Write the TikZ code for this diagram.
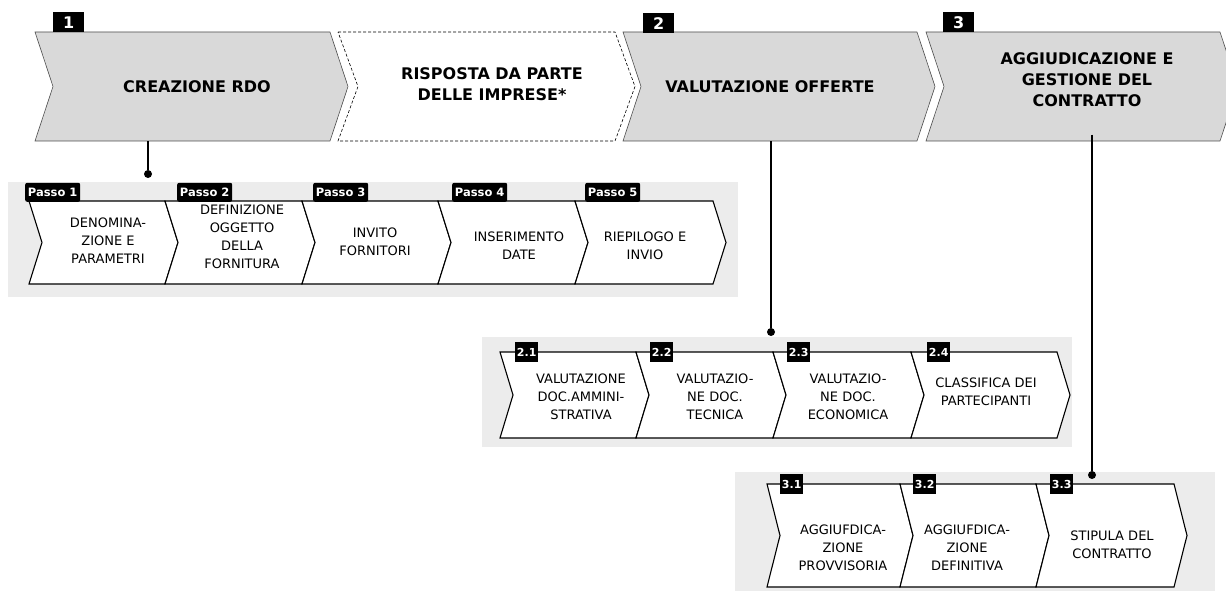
\documentclass[tikz,border=0pt]{standalone}
\usepackage{fontspec}
\setmainfont{DejaVu Sans}
\usepackage{tikz}
\usetikzlibrary{positioning,calc}
% chevron outline: x left, x right, y top, y bottom, depth
\newcommand{\chev}[5]{(#1,#3) -- (#2,#3) -- ({#2+#5},{(#3+#4)/2}) -- (#2,#4) -- (#1,#4) -- ({#1+#5},{(#3+#4)/2}) -- cycle}

\begin{document}
\begin{tikzpicture}[
  x=1pt, y=-1pt,
  phase/.style={draw=black!70, fill=gray!30, line width=0.6pt},
  phasedash/.style={draw=black, dash pattern=on 3pt off 2pt, fill=white, line width=0.6pt},
  panel/.style={fill=gray!15, draw=none},
  stepchev/.style={draw=black, fill=white, line width=1.1pt, line join=miter},
  phasetext/.style={font=\fontsize{16}{21}\selectfont\bfseries, align=center, minimum height=109pt, inner sep=0pt},
  steptext/.style={font=\fontsize{13}{18}\selectfont, align=center},
  numbadge/.style={fill=black, text=white, font=\fontsize{16}{16}\selectfont\bfseries, minimum width=31pt, minimum height=20pt, inner sep=0pt, anchor=north west},
  passobadge/.style={fill=black, text=white, rounded corners=2pt, font=\fontsize{11.5}{11.5}\selectfont\bfseries, minimum width=55pt, minimum height=19pt, inner sep=0pt, anchor=south west},
  subbadge/.style={fill=black, text=white, font=\fontsize{11}{11}\selectfont\bfseries, minimum width=23pt, minimum height=20pt, inner sep=0pt, anchor=west},
  link/.style={line width=1.2pt},
  dot/.style={circle, fill=black, inner sep=0pt, minimum size=8pt},
]
  \useasboundingbox (0,0) rectangle (1226,591);
  \clip (0,0) rectangle (1226,591);

  % phases
  \draw[phase] \chev{35}{330}{32}{141}{18};
  \draw[phasedash] \chev{338}{615}{32}{141}{20};
  \draw[phase] \chev{623}{917}{32}{141}{18};
  \draw[phase] \chev{926}{1220}{32}{141}{18};

  \node[phasetext] (crea) at (197,86.5) {CREAZIONE RDO};
  \node[phasetext] (risp) at (492,84) {RISPOSTA DA PARTE\\DELLE IMPRESE*};
  \node[phasetext] (valu) at (770,86.5) {VALUTAZIONE OFFERTE};
  \node[phasetext] (aggi) at (1087,80) {AGGIUDICAZIONE E\\GESTIONE DEL\\CONTRATTO};

  \node[numbadge] (n1) at (53,12) {1};
  \node[numbadge] (n2) at (643,13) {2};
  \node[numbadge] (n3) at (943,12) {3};

  % passi creazione
  \fill[panel] (8,182) rectangle (738,297);
  \draw[stepchev] \chev{29}{165}{201}{284}{13};
  \draw[stepchev] \chev{165}{302}{201}{284}{13};
  \draw[stepchev] \chev{302}{438}{201}{284}{13};
  \draw[stepchev] \chev{438}{575}{201}{284}{13};
  \draw[stepchev] \chev{575}{713}{201}{284}{13};

  \node[passobadge] (p1) at (25,202) {Passo 1};
  \node[passobadge] (p2) at (177,202) {Passo 2};
  \node[passobadge] (p3) at (313,202) {Passo 3};
  \node[passobadge] (p4) at (452,202) {Passo 4};
  \node[passobadge] (p5) at (585,202) {Passo 5};

  \node[steptext] (denom) at (108,241) {DENOMINA-\\ZIONE E\\PARAMETRI};
  \node[steptext] (defin) at (242,237) {DEFINIZIONE\\OGGETTO\\DELLA\\FORNITURA};
  \node[steptext] (invit) at (375,242) {INVITO\\FORNITORI};
  \node[steptext] (inser) at (519,246) {INSERIMENTO\\DATE};
  \node[steptext] (riep) at (645,246) {RIEPILOGO E\\INVIO};

  % valutazione
  \fill[panel] (482,337) rectangle (1072,447);
  \draw[stepchev] \chev{500}{636}{352}{438}{13};
  \draw[stepchev] \chev{636}{773}{352}{438}{13};
  \draw[stepchev] \chev{773}{911}{352}{438}{13};
  \draw[stepchev] \chev{911}{1057}{352}{438}{13};

  \node[subbadge] (v1) at (515,352) {2.1};
  \node[subbadge] (v2) at (650,352) {2.2};
  \node[subbadge] (v3) at (787,352) {2.3};
  \node[subbadge] (v4) at (927,352) {2.4};

  \node[steptext] (vamm) at (581,397) {VALUTAZIONE\\DOC.AMMINI-\\STRATIVA};
  \node[steptext] (vtec) at (715,397) {VALUTAZIO-\\NE DOC.\\TECNICA};
  \node[steptext] (veco) at (848,397) {VALUTAZIO-\\NE DOC.\\ECONOMICA};
  \node[steptext] (clas) at (986,392) {CLASSIFICA DEI\\PARTECIPANTI};

  % aggiudicazione
  \fill[panel] (735,472) rectangle (1215,595);
  \draw[stepchev] \chev{767}{900}{484}{587}{13};
  \draw[stepchev] \chev{900}{1036}{484}{587}{13};
  \draw[stepchev] \chev{1036}{1174}{484}{587}{13};

  \node[subbadge] (a1) at (780,484) {3.1};
  \node[subbadge] (a2) at (913,484) {3.2};
  \node[subbadge] (a3) at (1050,484) {3.3};

  \node[steptext] (aprov) at (843,548) {AGGIUFDICA-\\ZIONE\\PROVVISORIA};
  \node[steptext] (adef) at (967,548) {AGGIUFDICA-\\ZIONE\\DEFINITIVA};
  \node[steptext] (stip) at (1112,545) {STIPULA DEL\\CONTRATTO};

  % connectors
  \node[dot] (crea-dot) at (148,174) {};
  \node[dot] (valu-dot) at (771,332) {};
  \node[dot] (aggi-dot) at (1092,475) {};
  \draw[link] (crea-dot |- crea.south) -- (crea-dot);
  \draw[link] (valu-dot |- valu.south) -- (valu-dot);
  \draw[link] (aggi-dot |- aggi.south) -- (aggi-dot);
\end{tikzpicture}
\end{document}
